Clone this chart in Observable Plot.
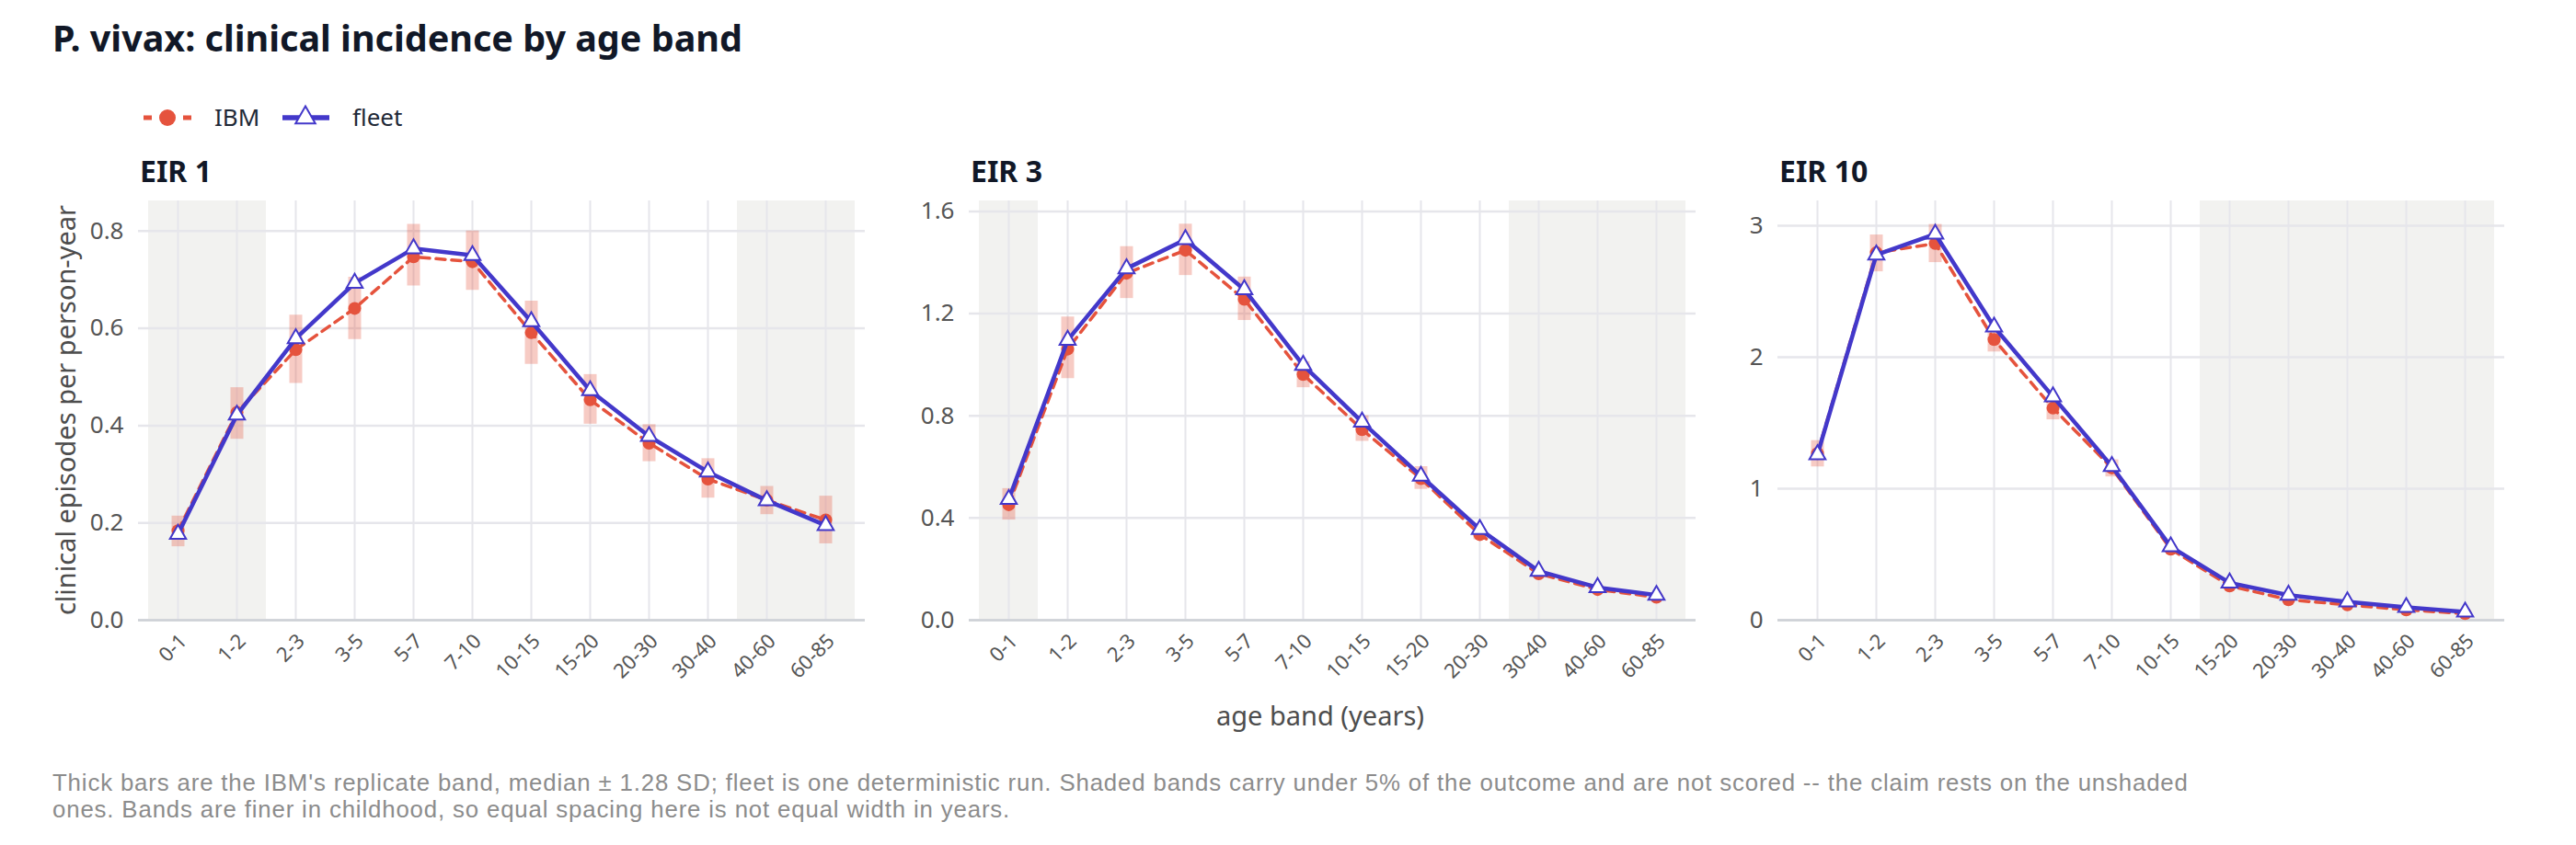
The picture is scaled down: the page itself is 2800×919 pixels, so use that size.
<!DOCTYPE html>
<html><head><meta charset="utf-8">
<script src="https://cdn.jsdelivr.net/npm/d3@7"></script>
<script src="https://cdn.jsdelivr.net/npm/@observablehq/plot@0.6"></script>
<style>
html,body{margin:0;padding:0;background:#fff;}
body{width:2800px;height:919px;position:relative;overflow:hidden;font-family:'Noto Sans',sans-serif;}
.abs{position:absolute;white-space:nowrap;line-height:1;}
.panel{position:absolute;}
</style></head><body>
<script>
// ---------- data ----------
const ages = ["0-1","1-2","2-3","3-5","5-7","7-10","10-15","15-20","20-30","30-40","40-60","60-85"];

const panelTitles = ["EIR 1", "EIR 3", "EIR 10"];

const ibm1   = [0.184, 0.427, 0.556, 0.641, 0.747, 0.737, 0.591, 0.453, 0.364, 0.290, 0.247, 0.206];
const lo1    = [0.151, 0.372, 0.487, 0.577, 0.687, 0.678, 0.526, 0.403, 0.326, 0.251, 0.217, 0.157];
const hi1    = [0.214, 0.478, 0.627, 0.705, 0.814, 0.800, 0.656, 0.505, 0.402, 0.332, 0.275, 0.255];
const fleet1 = [0.177, 0.422, 0.579, 0.693, 0.764, 0.750, 0.614, 0.472, 0.378, 0.305, 0.246, 0.195];
const shaded1 = ["0-1","1-2","40-60","60-85"];
const yTicks1 = [0, 0.2, 0.4, 0.6, 0.8];

const ibm3   = [0.452, 1.061, 1.358, 1.448, 1.256, 0.962, 0.746, 0.554, 0.335, 0.182, 0.120, 0.090];
const lo3    = [0.392, 0.946, 1.259, 1.349, 1.173, 0.910, 0.700, 0.512, 0.315, 0.170, 0.110, 0.082];
const hi3    = [0.515, 1.187, 1.462, 1.550, 1.343, 1.012, 0.800, 0.601, 0.355, 0.195, 0.130, 0.098];
const fleet3 = [0.473, 1.096, 1.376, 1.490, 1.294, 0.998, 0.776, 0.564, 0.356, 0.192, 0.128, 0.098];
const shaded3 = ["0-1","30-40","40-60","60-85"];
const yTicks3 = [0, 0.4, 0.8, 1.2, 1.6];

const ibm10   = [1.268, 2.795, 2.865, 2.135, 1.613, 1.158, 0.540, 0.261, 0.156, 0.117, 0.079, 0.050];
const lo10    = [1.166, 2.650, 2.720, 2.040, 1.524, 1.090, 0.520, 0.250, 0.145, 0.108, 0.072, 0.045];
const hi10    = [1.366, 2.930, 3.010, 2.220, 1.706, 1.220, 0.560, 0.275, 0.167, 0.126, 0.086, 0.055];
const fleet10 = [1.259, 2.779, 2.937, 2.231, 1.700, 1.170, 0.559, 0.284, 0.191, 0.140, 0.098, 0.063];
const shaded10 = ["15-20","20-30","30-40","40-60","60-85"];
const yTicks10 = [0, 1, 2, 3];

const yTops = [0.862, 1.641, 3.189];

const titleText = "P. vivax: clinical incidence by age band";
const seriesNames = ["IBM", "fleet"];
const yLabel = "clinical episodes per person-year";
const xLabel = "age band (years)";
const captionLines = [
  "Thick bars are the IBM's replicate band, median ± 1.28 SD; fleet is one deterministic run. Shaded bands carry under 5% of the outcome and are not scored -- the claim rests on the unshaded",
  "ones. Bands are finer in childhood, so equal spacing here is not equal width in years."
];

// ---------- style ----------
const RED = "#e5533d";
const BLUE = "#4338ca";
const INK = "#111827";
const TICK = "#555555";
const GRID = "#e6e6eb";
const SHADE = "#f2f2f0";

const FRAME_W = 790, FRAME_H = 456;
const ML = 60, MR = 10, MT = 10, MB = 120;
const FRAME_TOP = 218;
const frameLefts = [150, 1053, 1932];

function el(tag, cls, css, text) {
  const e = document.createElement(tag);
  if (cls) e.className = cls;
  Object.assign(e.style, css);
  if (text != null) e.textContent = text;
  document.body.appendChild(e);
  return e;
}
// baseline helper for Noto Sans with line-height 1
const topFor = (baseline, fs) => (baseline - 0.888 * fs) + "px";

// title
el("div", "abs", {left: "57px", top: topFor(57, 39.5), fontSize: "39.5px", fontWeight: "700", color: INK}, titleText);

// legend
const legNS = "http://www.w3.org/2000/svg";
const leg = document.createElementNS(legNS, "svg");
leg.setAttribute("width", 420); leg.setAttribute("height", 160);
leg.style.position = "absolute"; leg.style.left = "0px"; leg.style.top = "0px";
leg.innerHTML = `
  <line x1="156" x2="208" y1="128" y2="128" stroke="${RED}" stroke-width="5" stroke-dasharray="9,34"/>
  <circle cx="182" cy="128" r="9" fill="${RED}"/>
  <line x1="307" x2="358" y1="128" y2="128" stroke="${BLUE}" stroke-width="5.5"/>
  <path transform="translate(332,128)" d="${d3.symbol(d3.symbolTriangle, 200)()}" fill="#fff" stroke="${BLUE}" stroke-width="2"/>`;
document.body.appendChild(leg);
el("div", "abs", {left: "233px", top: topFor(137, 26), fontSize: "26px", color: "#1f2937"}, seriesNames[0]);
el("div", "abs", {left: "383px", top: topFor(137, 26), fontSize: "26px", color: "#1f2937"}, seriesNames[1]);

// panels
const panels = [
  {ibm: ibm1, lo: lo1, hi: hi1, fleet: fleet1, shaded: shaded1, ticks: yTicks1, fmt: d3.format(".1f")},
  {ibm: ibm3, lo: lo3, hi: hi3, fleet: fleet3, shaded: shaded3, ticks: yTicks3, fmt: d3.format(".1f")},
  {ibm: ibm10, lo: lo10, hi: hi10, fleet: fleet10, shaded: shaded10, ticks: yTicks10, fmt: d3.format("d")}
];

panels.forEach((p, k) => {
  const rows = ages.map((a, i) => ({age: a, ibm: p.ibm[i], lo: p.lo[i], hi: p.hi[i], fleet: p.fleet[i]}));
  const top = yTops[k];
  const band = FRAME_W / 12.2;
  const chart = Plot.plot({
    width: ML + FRAME_W + MR,
    height: MT + FRAME_H + MB,
    marginLeft: ML, marginRight: MR, marginTop: MT, marginBottom: MB,
    style: {fontFamily: "'Noto Sans', sans-serif", background: "transparent", overflow: "visible"},
    x: {domain: ages, type: "band", padding: 0, insetLeft: band * 0.1, insetRight: band * 0.1, axis: null},
    y: {domain: [0, top], axis: null},
    marks: [
      Plot.barY(p.shaded, {x: d => d, y1: () => 0, y2: () => top, fill: SHADE}),
      Plot.gridX({stroke: GRID, strokeOpacity: 1, strokeWidth: 2}),
      Plot.gridY({ticks: p.ticks, stroke: GRID, strokeOpacity: 1, strokeWidth: 2.5}),
      Plot.ruleY([0], {stroke: "#cdd0d6", strokeWidth: 2.5}),
      Plot.axisY({ticks: p.ticks, tickFormat: p.fmt, tickSize: 0, tickPadding: 16, fontSize: 26, color: TICK, label: null}),
      Plot.axisX({tickRotate: -45, tickSize: 0, tickPadding: 14, dx: 6, dy: 5, fontSize: 22, color: TICK, label: null}),
      Plot.ruleX(rows, {x: "age", y1: "lo", y2: "hi", stroke: RED, strokeOpacity: 0.3, strokeWidth: 14}),
      Plot.line(rows, {x: "age", y: "ibm", stroke: RED, strokeWidth: 3.5, strokeDasharray: "10,7"}),
      Plot.dot(rows, {x: "age", y: "ibm", r: 7, fill: RED}),
      Plot.line(rows, {x: "age", y: "fleet", stroke: BLUE, strokeWidth: 4.5}),
      Plot.dot(rows, {x: "age", y: "fleet", r: 6.5, symbol: "triangle", fill: "#fff", stroke: BLUE, strokeWidth: 2})
    ]
  });
  const wrap = el("div", "panel", {left: (frameLefts[k] - ML) + "px", top: (FRAME_TOP - MT) + "px"});
  wrap.appendChild(chart);
  el("div", "abs", {left: (frameLefts[k] + 2) + "px", top: topFor(198, 32), fontSize: "32px", fontWeight: "700", color: INK}, panelTitles[k]);
});

// axis titles
el("div", "abs", {left: "70px", top: "446px", fontSize: "29px", color: "#4d4d4d", transform: "translate(-50%,-50%) rotate(-90deg)"}, yLabel);
el("div", "abs", {left: "1435px", top: "777px", fontSize: "29px", color: "#4d4d4d", transform: "translate(-50%,-50%)"}, xLabel);

// caption (one element per line; compact-metric font so line boxes do not overlap)
captionLines.forEach((line, i) => {
  el("div", "abs", {left: "57px", top: (862 + 29 * i - 0.905 * 25.8) + "px", fontSize: "25.8px",
    fontFamily: "'Liberation Sans', sans-serif", letterSpacing: "0.85px", color: "#8c8c8c"}, line);
});
</script>
</body></html>
